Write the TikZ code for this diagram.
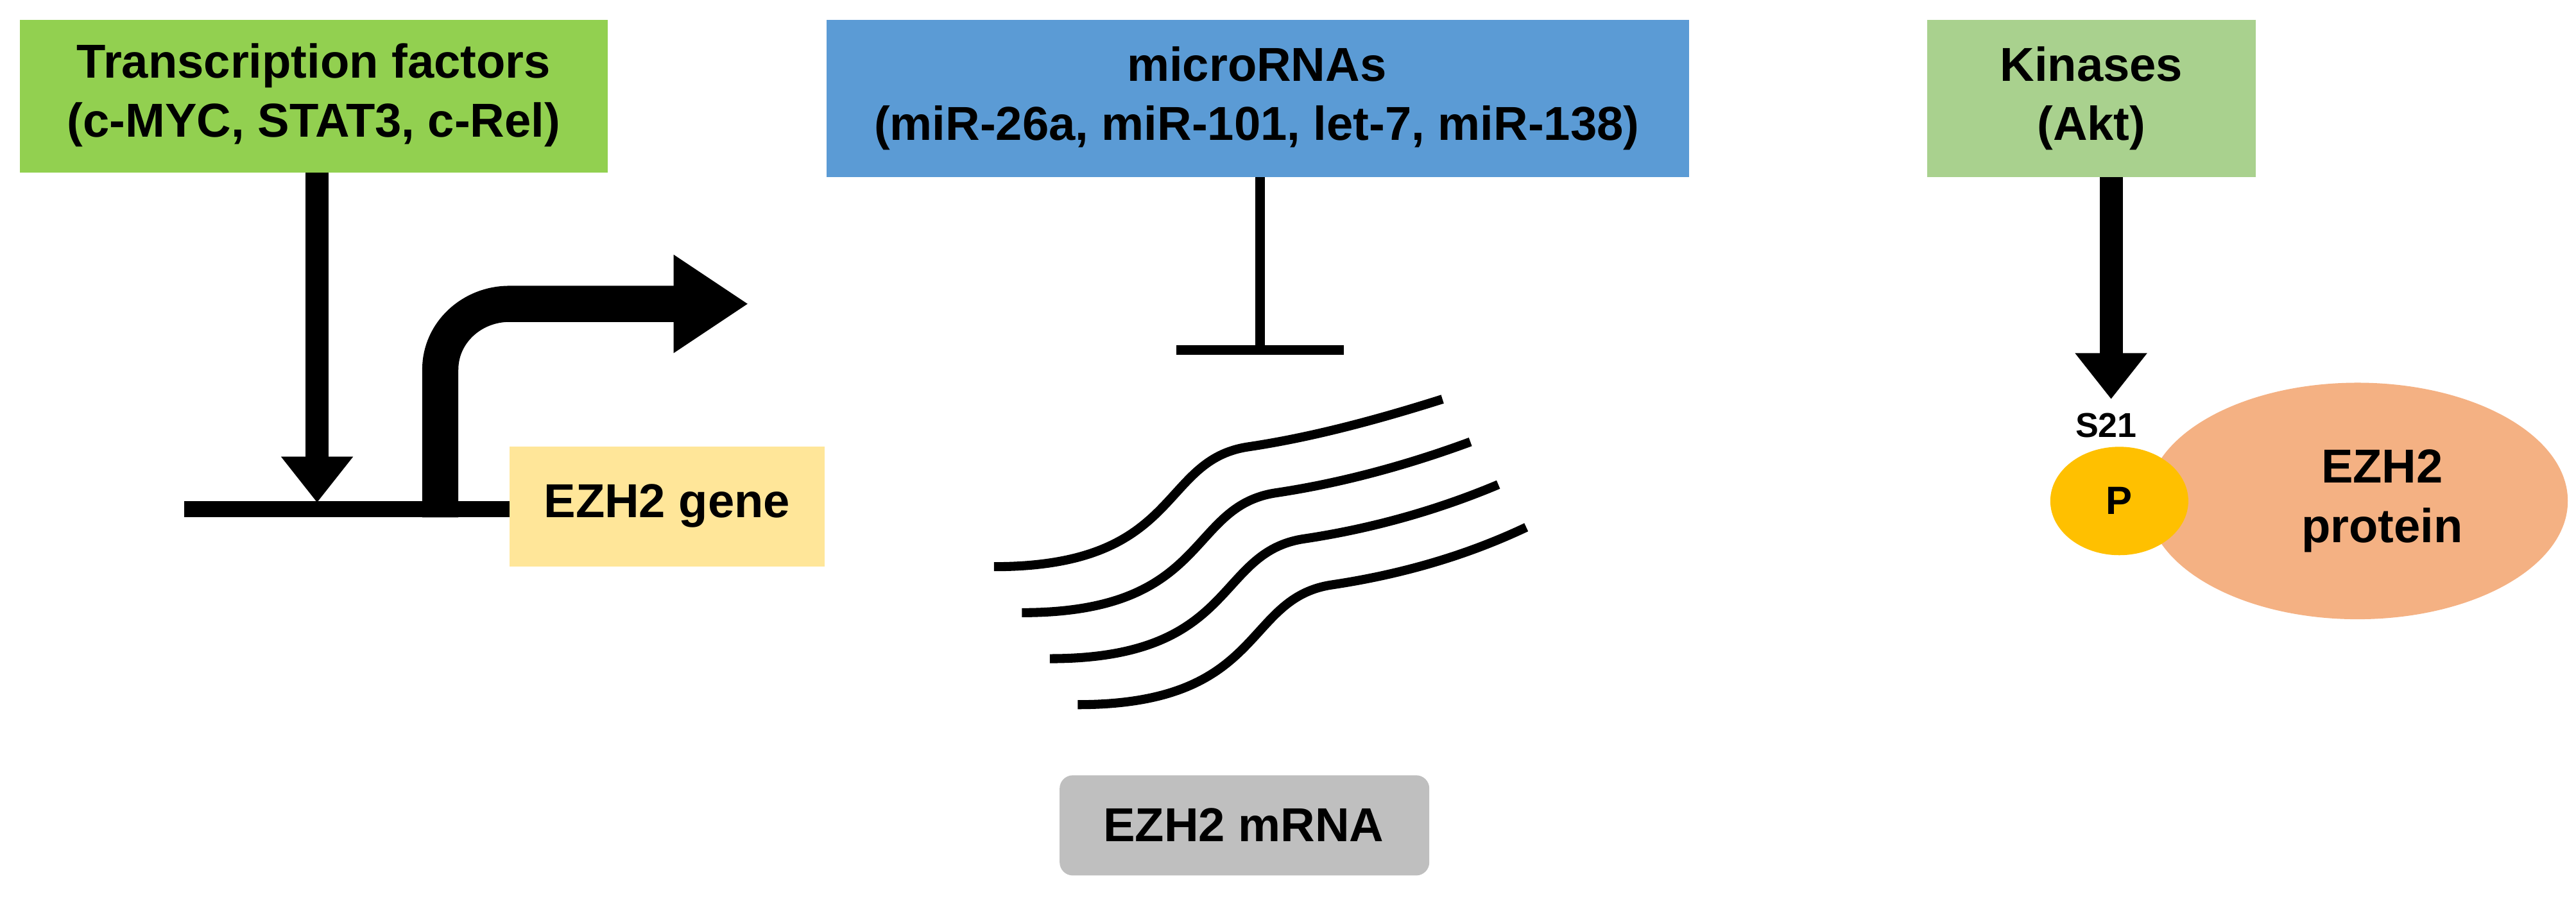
\documentclass[tikz,border=0pt]{standalone}
\usepackage{fontspec}
\setmainfont{Liberation Sans}
\usetikzlibrary{arrows.meta}
\definecolor{tfg}{HTML}{92D050}
\definecolor{mib}{HTML}{5B9BD5}
\definecolor{kig}{HTML}{A9D18E}
\definecolor{gny}{HTML}{FFE699}
\definecolor{mrg}{HTML}{BFBFBF}
\definecolor{pyl}{HTML}{FFC000}
\definecolor{prt}{HTML}{F4B183}
\begin{document}
\begin{tikzpicture}[x=1pt,y=-1pt,
  lbl/.style={font=\fontsize{29}{36}\selectfont\bfseries,align=center,inner sep=0},
  bigarrow/.style={line width=14pt,-{Triangle[length=28pt,width=42pt]}}]
\useasboundingbox (0,0) rectangle (1568,546);
\fill[tfg] (12,12) rectangle (370,105);
\node[lbl] (tf) at (191,58) {Transcription factors\\(c-MYC, STAT3, c-Rel)};
\fill[mib] (503,12) rectangle (1028,108);
\node[lbl] (mi) at (765,60) {microRNAs\\(miR-26a, miR-101, let-7, miR-138)};
\fill[kig] (1173,12) rectangle (1373,108);
\node[lbl] (ki) at (1273,60) {Kinases\\(Akt)};
\fill[gny] (310,272) rectangle (502,345);
\node[lbl] (gene) at (406,308) {EZH2 gene};
\fill[mrg,rounded corners=8pt] (645,472) rectangle (870,533);
\node[lbl] (mrna) at (757,502) {EZH2 mRNA};
% gene line
\coordinate (g0) at (112,310); \coordinate (g1) at (310,310);
\draw[line width=10pt] (g0) -- (g1);
\coordinate (tfb) at (193,105); \coordinate (tfe) at (193,306);
\draw[bigarrow] (tfb) -- (tfe);
% promoter arrow
\draw[line width=22pt] (268,315) -- (268,225) to[out=90,in=180] (310,185) -- (412,185);
\fill (410,155) -- (455,185) -- (410,215) -- cycle;
% inhibition
\coordinate (mib) at (767,108); \coordinate (mie) at (767,213);
\draw[line width=6pt] (mib) -- (mie);
\draw[line width=6pt] (716,213) -- (818,213);
% mRNA strands
\foreach \i in {0,1,2,3}{
  \draw[line width=5.5pt] ({605+17*\i},{345+28*\i}) .. controls ({720+17*\i},{345+28*\i}) and ({705+17*\i},{280+28*\i}) .. ({760+17*\i},{272+28*\i}) .. controls ({800+17*\i},{266+28*\i}) and ({840+17*\i},{255+28*\i}) .. ({878+17*\i},{243+26*\i});
}
% kinase
\coordinate (kb) at (1285,108); \coordinate (ke) at (1285,243);
\draw[bigarrow] (kb) -- (ke);
\fill[prt] (1435,305) ellipse (128 and 72);
\node[lbl] (prot) at (1450,305) {EZH2\\protein};
\fill[pyl] (1290,305) ellipse (42 and 33);
\node[lbl,font=\fontsize{24}{28}\selectfont\bfseries] (p) at (1290,305) {P};
\node[lbl,font=\fontsize{21}{24}\selectfont\bfseries] (s21) at (1282,259) {S21};
\end{tikzpicture}
\end{document}
